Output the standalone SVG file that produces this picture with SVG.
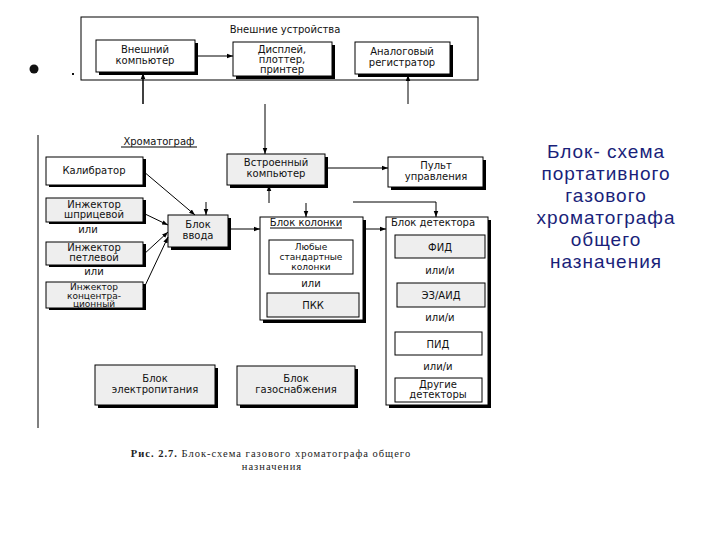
<svg xmlns="http://www.w3.org/2000/svg" width="720" height="540" viewBox="0 0 720 540">
<defs>
<style>
.t{font-family:"DejaVu Sans","Liberation Sans",sans-serif;font-size:10px;fill:#111;text-anchor:middle}
.s{font-size:9px}
.tl{font-family:"DejaVu Sans","Liberation Sans",sans-serif;font-size:10px;fill:#111}
.box{stroke:#000;stroke-width:1}
.w{fill:#fff}
.g{fill:#eeeeee}
.sh{fill:#000}
.ln{stroke:#000;stroke-width:1;fill:none}
.cap{font-family:"Liberation Serif",serif;font-size:10.5px;letter-spacing:1px;fill:#222;text-anchor:middle}
.blue{font-family:"Liberation Sans",Arial,sans-serif;font-size:19px;letter-spacing:1px;fill:#1a1f7a;text-anchor:middle}
</style>
<marker id="ar" viewBox="0 0 8 8" refX="8" refY="4" markerWidth="6" markerHeight="6" orient="auto" markerUnits="userSpaceOnUse">
<path d="M0,1 L8,4 L0,7 z" fill="#000"/>
</marker>
</defs>
<rect width="720" height="540" fill="#fff"/>

<!-- bullet -->
<circle cx="34" cy="69" r="4.5" fill="#111"/>
<rect x="72" y="73" width="2" height="2" fill="#111"/>

<g id="vneshnie">
<rect x="81" y="17" width="397" height="63" class="box w"/>
<text x="285" y="33" class="t">Внешние устройства</text>
</g>
<g id="vn-komp">
<rect x="99" y="43" width="99" height="32" class="sh"/>
<rect x="96" y="40" width="99" height="32" class="box w"/>
<text x="145" y="53" class="t">Внешний</text>
<text x="145" y="64" class="t">компьютер</text>
</g>
<g id="display">
<rect x="236" y="45" width="99" height="34" class="sh"/>
<rect x="233" y="42" width="99" height="34" class="box w"/>
<text x="282" y="53" class="t">Дисплей,</text>
<text x="282" y="63" class="t">плоттер,</text>
<text x="282" y="73" class="t">принтер</text>
</g>
<g id="analog">
<rect x="358" y="45" width="95" height="32" class="sh"/>
<rect x="355" y="42" width="95" height="32" class="box w"/>
<text x="402" y="55" class="t">Аналоговый</text>
<text x="402" y="66" class="t">регистратор</text>
</g>

<g id="chrom-label">
<line x1="38" y1="135" x2="38" y2="428" class="ln"/>
<text x="159" y="145" class="t">Хроматограф</text>
<line x1="121" y1="147" x2="197" y2="147" class="ln"/>
</g>

<g id="kalibrator">
<rect x="49" y="159" width="97" height="28" class="sh"/>
<rect x="46" y="157" width="97" height="28" class="box w"/>
<text x="94" y="174" class="t">Калибратор</text>
</g>
<g id="inj-shpr">
<rect x="49" y="200" width="97" height="24" class="sh"/>
<rect x="46" y="198" width="97" height="24" class="box g"/>
<text x="94" y="208" class="t">Инжектор</text>
<text x="94" y="218" class="t">шприцевой</text>
</g>
<text x="88" y="233" class="t">или</text>
<g id="inj-petl">
<rect x="49" y="244" width="97" height="23" class="sh"/>
<rect x="46" y="242" width="97" height="23" class="box g"/>
<text x="94" y="251" class="t">Инжектор</text>
<text x="94" y="261" class="t">петлевой</text>
</g>
<text x="94" y="275" class="t">или</text>
<g id="inj-konc">
<rect x="49" y="284" width="97" height="26" class="sh"/>
<rect x="46" y="282" width="97" height="26" class="box g"/>
<text x="94" y="290" class="t s">Инжектор</text>
<text x="94" y="298.5" class="t s">концентра-</text>
<text x="94" y="307" class="t s">ционный</text>
</g>
<g id="blok-vvoda">
<rect x="171" y="218" width="60" height="32" class="sh"/>
<rect x="168" y="215" width="60" height="32" class="box g"/>
<text x="198" y="228" class="t">Блок</text>
<text x="198" y="239" class="t">ввода</text>
</g>

<g id="vstr-komp">
<rect x="230" y="157" width="98" height="31" class="sh"/>
<rect x="227" y="154" width="98" height="31" class="box g"/>
<text x="276" y="166" class="t">Встроенный</text>
<text x="276" y="177" class="t">компьютер</text>
</g>
<g id="pult">
<rect x="391" y="160" width="95" height="30" class="sh"/>
<rect x="388" y="157" width="95" height="30" class="box w"/>
<text x="436" y="169" class="t">Пульт</text>
<text x="436" y="180" class="t">управления</text>
</g>

<g id="blok-kolonki">
<rect x="263" y="220" width="103" height="103" class="sh"/>
<rect x="260" y="217" width="103" height="103" class="box w"/>
<text x="306" y="226" class="t">Блок колонки</text>
<line x1="270" y1="228" x2="342" y2="228" class="ln"/>
<rect x="269" y="240" width="84" height="34" class="box w"/>
<text x="311" y="250" class="t s">Любые</text>
<text x="311" y="260" class="t s">стандартные</text>
<text x="311" y="270" class="t s">колонки</text>
<text x="311" y="287" class="t">или</text>
<rect x="267" y="293" width="92" height="24" class="box g"/>
<text x="313" y="309" class="t">ПКК</text>
</g>

<g id="blok-detektora">
<rect x="389" y="220" width="102" height="188" class="sh"/>
<rect x="386" y="217" width="102" height="188" class="box w"/>
<text x="391" y="226" class="tl">Блок детектора</text>
<rect x="395" y="235" width="90" height="23" class="box g"/>
<text x="440" y="251" class="t">ФИД</text>
<text x="440" y="274" class="t">или/и</text>
<rect x="397" y="283" width="88" height="24" class="box g"/>
<text x="441" y="299" class="t">ЭЗ/АИД</text>
<text x="440" y="321" class="t">или/и</text>
<rect x="395" y="332" width="87" height="23" class="box w"/>
<text x="438" y="348" class="t">ПИД</text>
<text x="438" y="370" class="t">или/и</text>
<rect x="395" y="378" width="87" height="24" class="box w"/>
<text x="438" y="388" class="t">Другие</text>
<text x="438" y="398" class="t">детекторы</text>
</g>

<g id="elektro">
<rect x="98" y="368" width="120" height="40" class="sh"/>
<rect x="95" y="365" width="120" height="40" class="box g"/>
<text x="155" y="382" class="t">Блок</text>
<text x="155" y="393" class="t">электропитания</text>
</g>
<g id="gaz">
<rect x="240" y="369" width="118" height="39" class="sh"/>
<rect x="237" y="366" width="118" height="39" class="box g"/>
<text x="296" y="382" class="t">Блок</text>
<text x="296" y="393" class="t">газоснабжения</text>
</g>

<g id="connectors" class="ln">
<line x1="195" y1="56" x2="233" y2="56" marker-end="url(#ar)"/>
<line x1="143" y1="104" x2="143" y2="73" stroke-width="1.5" marker-end="url(#ar)"/>
<line x1="408" y1="104" x2="408" y2="75" marker-end="url(#ar)"/>
<line x1="265" y1="104" x2="265" y2="154" marker-end="url(#ar)"/>
<line x1="143" y1="171" x2="195" y2="215" marker-end="url(#ar)"/>
<line x1="206" y1="202" x2="206" y2="215" marker-end="url(#ar)"/>
<line x1="143" y1="213" x2="168" y2="225" marker-end="url(#ar)"/>
<line x1="143" y1="255" x2="168" y2="232" marker-end="url(#ar)"/>
<line x1="143" y1="290" x2="168" y2="237" marker-end="url(#ar)"/>
<line x1="325" y1="168" x2="388" y2="168" marker-end="url(#ar)"/>
<line x1="269" y1="203" x2="269" y2="185" marker-end="url(#ar)"/>
<line x1="306" y1="203" x2="306" y2="217" marker-end="url(#ar)"/>
<polyline points="353,202 436,202 436,217" marker-end="url(#ar)"/>
<line x1="228" y1="229" x2="260" y2="229" marker-end="url(#ar)"/>
<line x1="363" y1="229" x2="386" y2="229" marker-end="url(#ar)"/>
</g>

<g id="caption">
<text x="271" y="457" class="cap"><tspan font-weight="bold">Рис. 2.7.</tspan> Блок-схема газового хроматографа общего</text>
<text x="272" y="470" class="cap">назначения</text>
</g>

<g id="title-right">
<text x="606" y="158" class="blue">Блок- схема</text>
<text x="606" y="180" class="blue">портативного</text>
<text x="606" y="202" class="blue">газового</text>
<text x="606" y="224" class="blue">хроматографа</text>
<text x="606" y="246" class="blue">общего</text>
<text x="606" y="268" class="blue">назначения</text>
</g>
</svg>
